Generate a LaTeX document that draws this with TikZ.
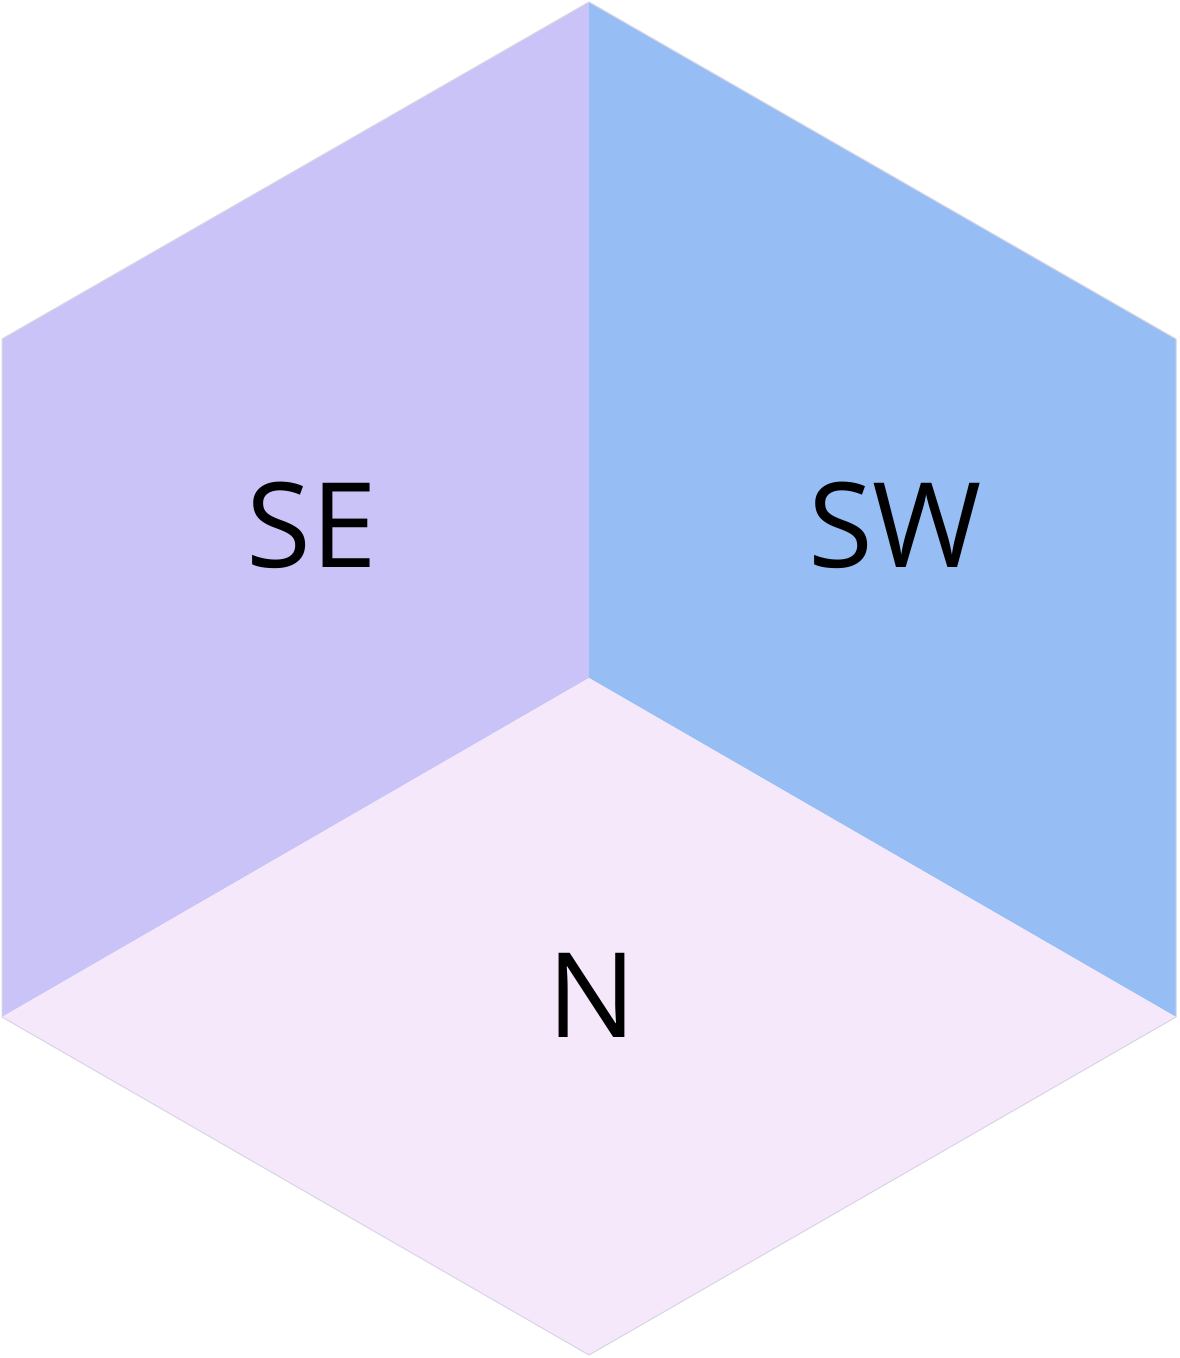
\documentclass[tikz,border=0pt]{standalone}
\usepackage{fontspec}
\setmainfont{Open Sans}
\definecolor{se}{HTML}{CAC3F8}
\definecolor{sw}{HTML}{96BEF5}
\definecolor{nn}{HTML}{F5E8FA}
\definecolor{edge}{HTML}{D8D4E4}
\begin{document}
\begin{tikzpicture}[x=1pt,y=-1pt,
  face/.style={draw=edge,line width=1pt,line join=round},
  lbl/.style={font=\fontsize{118}{120}\selectfont,text=black}]
\useasboundingbox (0,0) rectangle (1179,1358);
\coordinate (T) at (589,2);
\coordinate (UL) at (2,339);
\coordinate (LL) at (2,1017);
\coordinate (B) at (589,1355);
\coordinate (LR) at (1176,1017);
\coordinate (UR) at (1176,339);
\coordinate (C) at (589,678);
\fill[se] (T) -- (UL) -- (LL) -- (C) -- cycle;
\fill[sw] (T) -- (C) -- (LR) -- (UR) -- cycle;
\fill[nn] (C) -- (LL) -- (B) -- (LR) -- cycle;
\draw[face] (T) -- (UL) -- (LL) -- (B) -- (LR) -- (UR) -- cycle;
\node[lbl] (se) at (312,525) {SE};
\node[lbl] (sw) at (895,525) {SW};
\node[lbl] (n) at (592,995) {N};
\end{tikzpicture}
\end{document}
